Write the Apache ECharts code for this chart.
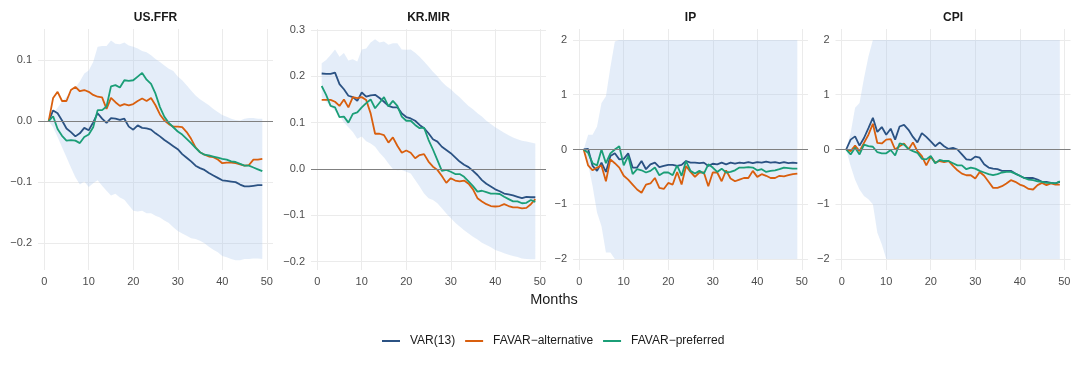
<!DOCTYPE html>
<html>
<head>
<meta charset="utf-8">
<script src="https://cdn.jsdelivr.net/npm/echarts@6/dist/echarts.min.js"></script>
<style>
  html, body { margin: 0; padding: 0; background: #fff; }
  #chart { width: 1080px; height: 366px; }
</style>
</head>
<body>
<div id="chart"></div>
<script>
// horizon (months)
const months = [1, 2, 3, 4, 5, 6, 7, 8, 9, 10, 11, 12, 13, 14, 15, 16, 17, 18, 19, 20,
  21, 22, 23, 24, 25, 26, 27, 28, 29, 30, 31, 32, 33, 34, 35, 36, 37, 38, 39, 40,
  41, 42, 43, 44, 45, 46, 47, 48, 49];

const seriesNames = ['VAR(13)', 'FAVAR\u2212alternative', 'FAVAR\u2212preferred'];
const panelNames = ['US.FFR', 'KR.MIR', 'IP', 'CPI'];
const xTicks = [0, 10, 20, 30, 40, 50];

// US.FFR
const ffrVar = [0, 0.0175, 0.013, 0.001, -0.012, -0.018, -0.025, -0.02, -0.011, -0.015,
  -0.002, 0.013, 0.004, -0.003, 0.005, 0.004, 0.002, 0.004, -0.009, -0.014,
  -0.007, -0.011, -0.012, -0.014, -0.02, -0.025, -0.031, -0.036, -0.041, -0.046,
  -0.054, -0.06, -0.066, -0.073, -0.077, -0.08, -0.085, -0.089, -0.093, -0.097,
  -0.098, -0.099, -0.1, -0.104, -0.107, -0.107, -0.106, -0.105, -0.105];
const ffrAlt = [0, 0.038, 0.048, 0.033, 0.033, 0.051, 0.056, 0.049, 0.051, 0.048,
  0.043, 0.04, 0.039, 0.02, 0.038, 0.031, 0.025, 0.028, 0.026, 0.028,
  0.033, 0.037, 0.033, 0.038, 0.026, 0.011, 0.001, -0.005, -0.009, -0.009,
  -0.01, -0.018, -0.029, -0.043, -0.051, -0.055, -0.058, -0.059, -0.063, -0.069,
  -0.068, -0.068, -0.069, -0.071, -0.073, -0.072, -0.063, -0.063, -0.062];
const ffrPref = [0, 0.008, -0.013, -0.024, -0.032, -0.031, -0.032, -0.036, -0.026, -0.022,
  -0.01, 0.018, 0.018, 0.024, 0.057, 0.059, 0.055, 0.067, 0.066, 0.067,
  0.073, 0.079, 0.068, 0.061, 0.045, 0.023, 0.007, -0.003, -0.01, -0.017,
  -0.022, -0.029, -0.036, -0.044, -0.051, -0.055, -0.056, -0.058, -0.06, -0.062,
  -0.063, -0.066, -0.067, -0.07, -0.073, -0.073, -0.076, -0.079, -0.082];
const ffrUpper = [0, 0.012, 0.022, 0.032, 0.04, 0.047, 0.055, 0.065, 0.078, 0.083,
  0.097, 0.122, 0.123, 0.123, 0.132, 0.127, 0.126, 0.129, 0.124, 0.122,
  0.119, 0.115, 0.113, 0.108, 0.102, 0.097, 0.091, 0.086, 0.082, 0.073,
  0.067, 0.059, 0.05, 0.042, 0.036, 0.031, 0.026, 0.02, 0.015, 0.01,
  0.007, 0.004, 0.002, 0.001, 0.004, 0.005, 0.005, 0.004, 0.004];
const ffrLower = [0, -0.01, -0.026, -0.043, -0.059, -0.076, -0.092, -0.104, -0.099, -0.108,
  -0.102, -0.097, -0.106, -0.114, -0.122, -0.119, -0.125, -0.129, -0.138, -0.147,
  -0.148, -0.147, -0.151, -0.151, -0.155, -0.158, -0.163, -0.167, -0.174, -0.18,
  -0.184, -0.188, -0.192, -0.193, -0.196, -0.2, -0.206, -0.211, -0.215, -0.221,
  -0.223, -0.226, -0.228, -0.228, -0.226, -0.226, -0.225, -0.225, -0.226];

// KR.MIR
const mirVar = [0.206, 0.205, 0.205, 0.208, 0.183, 0.172, 0.158, 0.155, 0.147, 0.165,
  0.156, 0.159, 0.16, 0.153, 0.145, 0.136, 0.133, 0.133, 0.12, 0.112,
  0.109, 0.104, 0.095, 0.088, 0.077, 0.064, 0.059, 0.048, 0.041, 0.034,
  0.025, 0.016, 0.009, 0.004, -0.004, -0.013, -0.024, -0.032, -0.038, -0.044,
  -0.048, -0.053, -0.055, -0.057, -0.06, -0.063, -0.06, -0.061, -0.061];
const mirAlt = [0.149, 0.149, 0.149, 0.145, 0.136, 0.15, 0.133, 0.155, 0.153, 0.155,
  0.149, 0.12, 0.076, 0.076, 0.073, 0.057, 0.068, 0.05, 0.035, 0.04,
  0.035, 0.023, 0.03, 0.032, 0.016, 0.005, -0.002, -0.015, -0.03, -0.02,
  -0.025, -0.027, -0.025, -0.032, -0.044, -0.063, -0.07, -0.076, -0.08, -0.081,
  -0.08, -0.076, -0.08, -0.083, -0.083, -0.085, -0.084, -0.076, -0.065];
const mirPref = [0.179, 0.16, 0.136, 0.133, 0.112, 0.113, 0.1, 0.119, 0.122, 0.133,
  0.142, 0.15, 0.131, 0.143, 0.155, 0.135, 0.147, 0.136, 0.113, 0.104,
  0.104, 0.095, 0.088, 0.089, 0.063, 0.042, 0.019, -0.004, -0.002, -0.006,
  -0.011, -0.011, -0.017, -0.027, -0.037, -0.049, -0.047, -0.05, -0.053, -0.053,
  -0.054, -0.06, -0.065, -0.07, -0.07, -0.074, -0.073, -0.067, -0.071];
const mirUpper = [0.228, 0.235, 0.246, 0.258, 0.242, 0.25, 0.234, 0.237, 0.232, 0.258,
  0.26, 0.273, 0.28, 0.273, 0.275, 0.268, 0.271, 0.271, 0.258, 0.257,
  0.258, 0.251, 0.242, 0.232, 0.221, 0.21, 0.2, 0.188, 0.179, 0.172,
  0.163, 0.155, 0.145, 0.136, 0.129, 0.12, 0.113, 0.104, 0.097, 0.09,
  0.084, 0.078, 0.073, 0.068, 0.064, 0.061, 0.059, 0.057, 0.055];
const mirLower = [0.155, 0.145, 0.135, 0.125, 0.115, 0.1, 0.09, 0.08, 0.065, 0.07,
  0.06, 0.055, 0.048, 0.035, 0.025, 0.012, 0.0, -0.003, -0.002, -0.006,
  -0.01, -0.024, -0.038, -0.053, -0.063, -0.067, -0.074, -0.085, -0.096, -0.106,
  -0.116, -0.124, -0.132, -0.139, -0.146, -0.152, -0.159, -0.164, -0.169, -0.175,
  -0.178, -0.182, -0.185, -0.188, -0.19, -0.193, -0.194, -0.195, -0.195];

// IP
const ipVar = [0, 0.01, -0.3, -0.39, -0.24, -0.41, -0.12, -0.07, -0.18, -0.17,
  -0.07, -0.33, -0.33, -0.21, -0.36, -0.27, -0.24, -0.32, -0.3, -0.28,
  -0.28, -0.3, -0.28, -0.21, -0.24, -0.24, -0.25, -0.24, -0.3, -0.26,
  -0.27, -0.24, -0.27, -0.24, -0.26, -0.24, -0.25, -0.23, -0.25, -0.23,
  -0.24, -0.22, -0.24, -0.23, -0.25, -0.23, -0.25, -0.24, -0.25];
const ipAlt = [0, -0.29, -0.38, -0.33, -0.29, -0.58, -0.18, -0.25, -0.33, -0.48,
  -0.55, -0.64, -0.73, -0.79, -0.64, -0.62, -0.52, -0.7, -0.72, -0.61,
  -0.64, -0.41, -0.64, -0.3, -0.41, -0.5, -0.42, -0.42, -0.67, -0.42,
  -0.42, -0.58, -0.38, -0.53, -0.58, -0.55, -0.52, -0.52, -0.39, -0.5,
  -0.45, -0.48, -0.52, -0.52, -0.48, -0.49, -0.47, -0.45, -0.44];
const ipPref = [0, -0.06, -0.25, -0.29, 0, -0.25, -0.07, 0, 0.06, -0.29,
  -0.12, -0.45, -0.36, -0.38, -0.42, -0.39, -0.33, -0.47, -0.42, -0.42,
  -0.47, -0.29, -0.48, -0.21, -0.39, -0.44, -0.39, -0.44, -0.27, -0.33,
  -0.41, -0.35, -0.42, -0.41, -0.38, -0.33, -0.33, -0.32, -0.33, -0.38,
  -0.36, -0.41, -0.39, -0.38, -0.36, -0.33, -0.34, -0.35, -0.35];
const ipUpper = [0, 0.27, 0.27, 0.42, 0.85, 0.97, 1.5, 1.97, 2, 2,
  2, 2, 2, 2, 2, 2, 2, 2, 2, 2,
  2, 2, 2, 2, 2, 2, 2, 2, 2, 2,
  2, 2, 2, 2, 2, 2, 2, 2, 2, 2,
  2, 2, 2, 2, 2, 2, 2, 2, 2];
const ipLower = [0, -0.27, -0.67, -1.15, -1.4, -1.88, -1.88, -2, -2, -2,
  -2, -2, -2, -2, -2, -2, -2, -2, -2, -2,
  -2, -2, -2, -2, -2, -2, -2, -2, -2, -2,
  -2, -2, -2, -2, -2, -2, -2, -2, -2, -2,
  -2, -2, -2, -2, -2, -2, -2, -2, -2];

// CPI
const cpiVar = [0, 0.18, 0.24, 0.07, 0.21, 0.39, 0.58, 0.32, 0.41, 0.27,
  0.38, 0.18, 0.42, 0.45, 0.36, 0.23, 0.13, 0.3, 0.23, 0.15,
  0.06, 0.13, 0.06, 0.01, 0.03, 0, -0.09, -0.18, -0.19, -0.13,
  -0.15, -0.27, -0.33, -0.35, -0.36, -0.39, -0.39, -0.39, -0.44, -0.48,
  -0.52, -0.52, -0.52, -0.55, -0.59, -0.59, -0.61, -0.62, -0.59];
const cpiAlt = [0, -0.03, 0.07, -0.03, 0.12, 0.27, 0.47, 0.12, 0.11, 0.18,
  0.19, 0, 0.06, 0.11, 0, 0.13, -0.03, -0.12, -0.29, -0.13,
  -0.24, -0.21, -0.23, -0.21, -0.3, -0.38, -0.44, -0.47, -0.47, -0.53,
  -0.41, -0.48, -0.59, -0.7, -0.7, -0.67, -0.62, -0.56, -0.59, -0.64,
  -0.67, -0.72, -0.73, -0.65, -0.61, -0.65, -0.62, -0.64, -0.64];
const cpiPref = [0, -0.09, 0.03, -0.09, 0.09, 0.06, 0.05, -0.05, -0.07, -0.07,
  -0.01, -0.11, 0.11, 0.09, 0.01, -0.03, -0.06, -0.17, -0.18, -0.12,
  -0.25, -0.19, -0.21, -0.21, -0.25, -0.29, -0.29, -0.36, -0.33, -0.35,
  -0.39, -0.42, -0.45, -0.47, -0.45, -0.42, -0.41, -0.41, -0.44, -0.48,
  -0.52, -0.55, -0.56, -0.58, -0.59, -0.61, -0.61, -0.62, -0.58];
const cpiUpper = [0, 0.3, 0.76, 0.85, 1.3, 1.7, 2, 2, 2, 2,
  2, 2, 2, 2, 2, 2, 2, 2, 2, 2,
  2, 2, 2, 2, 2, 2, 2, 2, 2, 2,
  2, 2, 2, 2, 2, 2, 2, 2, 2, 2,
  2, 2, 2, 2, 2, 2, 2, 2, 2];
const cpiLower = [0, -0.3, -0.55, -0.73, -0.85, -0.91, -1.0, -1.52, -1.73, -2,
  -2, -2, -2, -2, -2, -2, -2, -2, -2, -2,
  -2, -2, -2, -2, -2, -2, -2, -2, -2, -2,
  -2, -2, -2, -2, -2, -2, -2, -2, -2, -2,
  -2, -2, -2, -2, -2, -2, -2, -2, -2];

// y tick labels per panel
const ffrTicks = [-0.2, -0.1, 0, 0.1];
const mirTicks = [-0.2, -0.1, 0, 0.1, 0.2, 0.3];
const ipTicks = [-2, -1, 0, 1, 2];
const cpiTicks = [-2, -1, 0, 1, 2];

const panels = [
  { lines: [ffrVar, ffrAlt, ffrPref], lower: ffrLower, upper: ffrUpper, ticks: ffrTicks, dec: 1, min: -0.244, max: 0.151 },
  { lines: [mirVar, mirAlt, mirPref], lower: mirLower, upper: mirUpper, ticks: mirTicks, dec: 1, min: -0.218, max: 0.302 },
  { lines: [ipVar, ipAlt, ipPref], lower: ipLower, upper: ipUpper, ticks: ipTicks, dec: 0, min: -2.2, max: 2.2 },
  { lines: [cpiVar, cpiAlt, cpiPref], lower: cpiLower, upper: cpiUpper, ticks: cpiTicks, dec: 0, min: -2.2, max: 2.2 }
];

const colors = ['#2b5283', '#d95f0e', '#1b9e77'];
const bandColor = 'rgba(172,198,236,0.32)';
const font = '"Liberation Sans", Arial, Helvetica, sans-serif';
const panelLeft = [38, 311, 573, 835.5];
const gridTop = 29, gridHeight = 241, gridWidth = 235;

const pairs = arr => months.map((m, k) => [m, arr[k]]);
const minus = s => s.replace('-', '\u2212');

const option = {
  animation: false,
  backgroundColor: '#fff',
  grid: [], xAxis: [], yAxis: [], series: [],
  legend: {
    data: seriesNames,
    left: 377, top: 330, icon: 'rect',
    itemWidth: 18, itemHeight: 2, itemGap: 10,
    textStyle: { fontSize: 12, color: '#1a1a1a', fontFamily: font, padding: [0, 0, 0, 5] }
  },
  graphic: []
};

panels.forEach((p, i) => {
  option.grid.push({ left: panelLeft[i], top: gridTop, width: gridWidth, height: gridHeight });
  option.xAxis.push({
    gridIndex: i, type: 'value', min: -1.4, max: 51.4,
    axisLine: { show: false },
    axisTick: { show: false, customValues: xTicks },
    axisLabel: { customValues: xTicks, fontSize: 11, color: '#4d4d4d', fontFamily: font, margin: 6 },
    splitLine: { show: true, lineStyle: { color: '#ebebeb', width: 1 } }
  });
  option.yAxis.push({
    gridIndex: i, type: 'value', min: p.min, max: p.max,
    axisLine: { show: false },
    axisTick: { show: false, customValues: p.ticks },
    axisLabel: {
      customValues: p.ticks, fontSize: 11, color: '#4d4d4d', fontFamily: font, margin: 6,
      formatter: v => minus(Number(v).toFixed(p.dec))
    },
    splitLine: { show: true, lineStyle: { color: '#ebebeb', width: 1 } }
  });

  // confidence band as one polygon through the axis scales
  option.series.push({
    type: 'custom', xAxisIndex: i, yAxisIndex: i, z: 1, silent: true,
    data: months.map((m, k) => [m, p.lower[k], p.upper[k]]),
    encode: { x: 0, y: [1, 2] },
    renderItem: (params, api) => {
      if (params.dataIndex !== 0) return;
      const top = months.map((m, k) => api.coord([m, p.upper[k]]));
      const bot = months.map((m, k) => api.coord([m, p.lower[k]])).reverse();
      return { type: 'polygon', shape: { points: top.concat(bot) }, style: { fill: bandColor } };
    }
  });

  p.lines.forEach((vals, j) => {
    const s = {
      name: seriesNames[j], type: 'line', xAxisIndex: i, yAxisIndex: i, z: 3,
      data: pairs(vals), symbol: 'none', color: colors[j],
      lineStyle: { width: 1.8, color: colors[j] }
    };
    if (j === 0) {
      s.markLine = {
        silent: true, symbol: 'none', label: { show: false },
        lineStyle: { color: '#808080', width: 1, type: 'solid' },
        data: [{ yAxis: 0 }]
      };
    }
    option.series.push(s);
  });

  option.graphic.push({
    type: 'text', x: panelLeft[i] + gridWidth / 2, y: 18,
    style: { text: panelNames[i], textAlign: 'center', textVerticalAlign: 'middle',
      font: 'bold 12px ' + font, fill: '#1a1a1a' }
  });
});

option.graphic.push({
  type: 'text', x: 554, y: 300,
  style: { text: 'Months', textAlign: 'center', textVerticalAlign: 'middle',
    font: '14.5px ' + font, fill: '#1a1a1a' }
});

const chart = echarts.init(document.getElementById('chart'), null, { renderer: 'canvas' });
chart.setOption(option);
</script>
</body>
</html>
